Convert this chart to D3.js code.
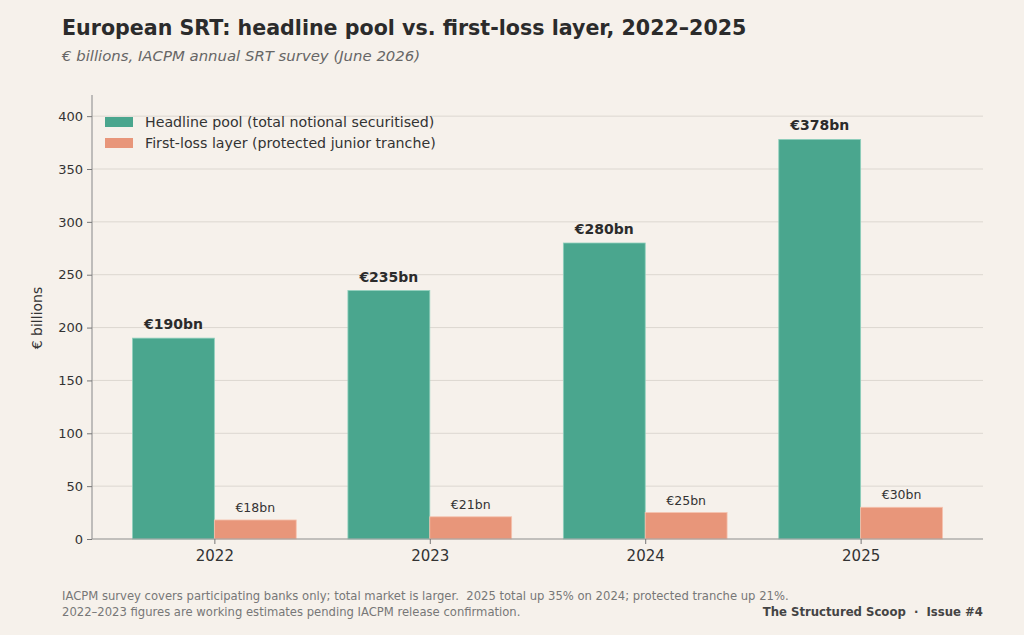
<!DOCTYPE html>
<html>
<head>
<meta charset="utf-8">
<script src="https://cdn.jsdelivr.net/npm/d3@7"></script>
<style>
  body { margin: 0; background: #f6f1eb; }
  svg { display: block; font-family: 'DejaVu Sans', sans-serif; }
</style>
</head>
<body>
<svg></svg>
<script>
let years = [ '2022', '2023', '2024', '2025' ]
let headline = [ 190, 235, 280, 378 ]
let firstLoss = [ 18, 21, 25, 30 ]
let yTicks = [ 0, 50, 100, 150, 200, 250, 300, 350, 400 ]
let seriesNames = [
  'Headline pool (total notional securitised)',
  'First-loss layer (protected junior tranche)'
]

let width = 1024
let height = 635
let margin = { top: 95, right: 41, bottom: 96, left: 92 }
let colors = [ '#4aa68e', '#e8967a' ]

let svg =
d3.select( 'svg' )
  .attr( 'width', width )
  .attr( 'height', height )

svg.append( 'rect' )
  .attr( 'width', width )
  .attr( 'height', height )
  .attr( 'fill', '#f6f1eb' )

// group centres on a linear index scale, bars 0.38 wide each side
const xScale =
d3.scaleLinear()
  .domain( [ -0.568, years.length - 1 + 0.568 ] )
  .range( [ margin.left, width - margin.right ] )

const yScale =
d3.scaleLinear()
  .domain( [ 0, 420 ] )
  .range( [ height - margin.bottom, margin.top ] )

let barW = 0.38

// grid
svg.append( 'g' )
  .selectAll( 'line' )
  .data( yTicks )
  .enter()
  .append( 'line' )
  .attr( 'x1', margin.left )
  .attr( 'x2', width - margin.right )
  .attr( 'y1', d => yScale( d ) )
  .attr( 'y2', d => yScale( d ) )
  .attr( 'stroke', '#dcd7d0' )
  .attr( 'stroke-width', 1 )

// bars
let rows = years.map( ( y, i ) => ( { i, year: y, vals: [ headline[ i ], firstLoss[ i ] ] } ) )

rows.forEach( r => {
  r.vals.forEach( ( v, s ) => {
    let x0 = s === 0 ? r.i - barW : r.i
    svg.append( 'rect' )
      .attr( 'x', xScale( x0 ) )
      .attr( 'y', yScale( v ) )
      .attr( 'width', xScale( x0 + barW ) - xScale( x0 ) )
      .attr( 'height', yScale( 0 ) - yScale( v ) )
      .attr( 'fill', colors[ s ] )
      .attr( 'stroke', s === 0 ? '#8fd0bd' : '#f5c2ae' )
      .attr( 'stroke-width', 0.8 )

    svg.append( 'text' )
      .text( '€' + v + 'bn' )
      .attr( 'x', xScale( x0 + barW / 2 ) )
      .attr( 'y', yScale( v ) - ( s === 0 ? 9 : 8 ) )
      .attr( 'text-anchor', 'middle' )
      .attr( 'font-size', s === 0 ? 14 : 12.5 )
      .attr( 'font-weight', s === 0 ? 'bold' : 'normal' )
      .attr( 'fill', s === 0 ? '#2b2b2b' : '#333' )
  } )
} )

// axes
let yAxis =
svg.append( 'g' )
  .attr( 'transform', `translate(${ margin.left },0)` )
  .call( d3.axisLeft( yScale ).tickValues( yTicks ).tickSize( 5 ).tickPadding( 4 ) )

yAxis.select( '.domain' ).attr( 'd', `M0,${ margin.top }V${ height - margin.bottom }` )

let xAxis =
svg.append( 'g' )
  .attr( 'transform', `translate(0,${ height - margin.bottom })` )
  .call( d3.axisBottom( xScale ).tickValues( d3.range( years.length ) )
    .tickFormat( i => years[ i ] ).tickSize( 5 ).tickPadding( 6 ) )

xAxis.select( '.domain' ).attr( 'd', `M${ margin.left },0H${ width - margin.right }` )

svg.selectAll( '.domain' ).attr( 'stroke', '#999' ).attr( 'stroke-width', 1.2 )
svg.selectAll( '.tick line' ).attr( 'stroke', '#777' )
yAxis.selectAll( 'text' )
  .attr( 'font-size', 13 )
  .attr( 'fill', '#333' )
  .attr( 'font-family', 'DejaVu Sans' )
xAxis.selectAll( 'text' )
  .attr( 'font-size', 15 )
  .attr( 'fill', '#333' )
  .attr( 'font-family', 'DejaVu Sans' )

svg.append( 'text' )
  .text( '€ billions' )
  .attr( 'transform', `translate(42,${ ( margin.top + height - margin.bottom ) / 2 + 1 }) rotate(-90)` )
  .attr( 'text-anchor', 'middle' )
  .attr( 'font-size', 14 )
  .attr( 'fill', '#333' )

// legend
let legend =
svg.append( 'g' )
  .selectAll( 'g' )
  .data( seriesNames )
  .enter()
  .append( 'g' )
  .attr( 'transform', ( d, i ) => `translate(105,${ 117 + i * 21 })` )

legend.append( 'rect' )
  .attr( 'width', 28 )
  .attr( 'height', 10 )
  .attr( 'fill', ( d, i ) => colors[ i ] )

legend.append( 'text' )
  .text( d => d )
  .attr( 'x', 40 )
  .attr( 'y', 6 )
  .attr( 'dominant-baseline', 'middle' )
  .attr( 'font-size', 14.2 )
  .attr( 'fill', '#333' )

// titles
svg.append( 'text' )
  .text( 'European SRT: headline pool vs. first-loss layer, 2022–2025' )
  .attr( 'x', 62 )
  .attr( 'y', 35 )
  .attr( 'font-size', 20.6 )
  .attr( 'font-weight', 'bold' )
  .attr( 'fill', '#2b2b2b' )

svg.append( 'text' )
  .text( '€ billions, IACPM annual SRT survey (June 2026)' )
  .attr( 'x', 62 )
  .attr( 'y', 61 )
  .attr( 'font-size', 14.9 )
  .attr( 'font-style', 'italic' )
  .attr( 'fill', '#666' )

// footer
let notes = [
  'IACPM survey covers participating banks only; total market is larger.  2025 total up 35% on 2024; protected tranche up 21%.',
  '2022–2023 figures are working estimates pending IACPM release confirmation.'
]

svg.selectAll( 'text.note' )
  .data( notes )
  .enter()
  .append( 'text' )
  .attr( 'class', 'note' )
  .text( d => d )
  .attr( 'x', 62 )
  .attr( 'y', ( d, i ) => 600 + i * 16 )
  .attr( 'font-size', 11.6 )
  .attr( 'fill', '#777' )
  .style( 'white-space', 'pre' )

svg.append( 'text' )
  .text( 'The Structured Scoop  ·  Issue #4' )
  .attr( 'x', width - margin.right )
  .attr( 'y', 616 )
  .attr( 'text-anchor', 'end' )
  .attr( 'font-size', 11.7 )
  .attr( 'font-weight', 'bold' )
  .attr( 'fill', '#444' )
  .style( 'white-space', 'pre' )
</script>
</body>
</html>
